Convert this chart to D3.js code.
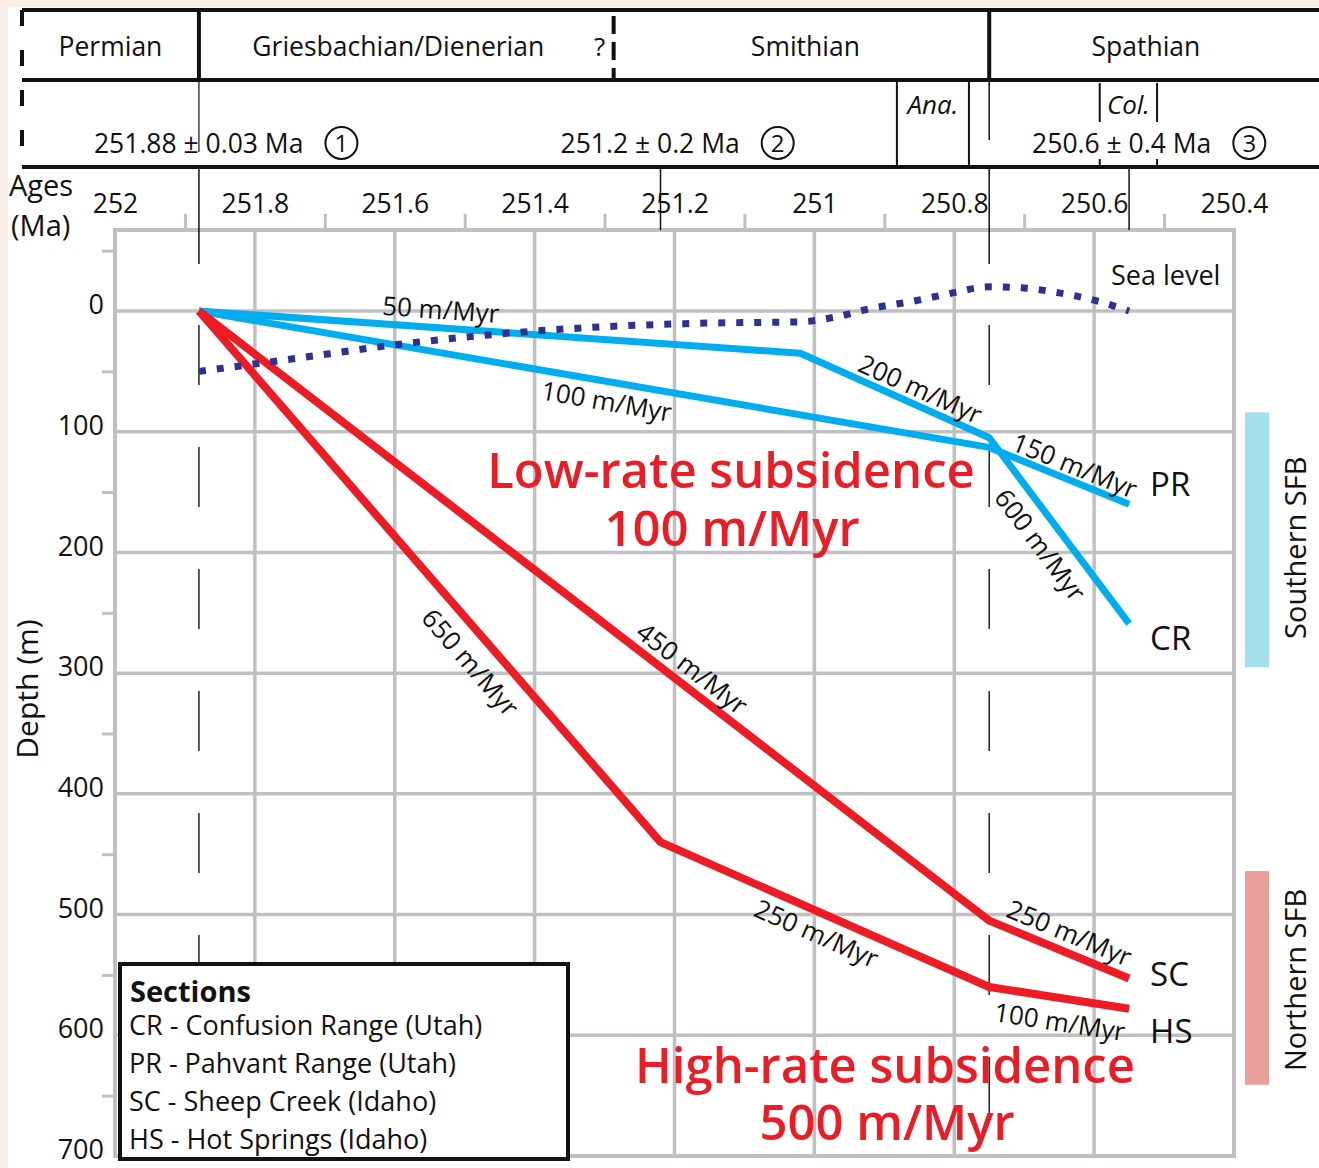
<!DOCTYPE html>
<html>
<head>
<meta charset="utf-8">
<script src="https://cdn.jsdelivr.net/npm/d3@7"></script>
<style>
  html, body { margin: 0; padding: 0; background: #fbeee6; }
  svg { display: block; }
  text { font-family: "Open Sans", "Noto Sans", sans-serif; fill: #111; }
</style>
</head>
<body>
<svg id="chart" width="1319" height="1168"></svg>
<script>
// ---------------- DATA ----------------
const ageTicks = [252, 251.8, 251.6, 251.4, 251.2, 251, 250.8, 250.6, 250.4];
const ageTickLabels = ["252", "251.8", "251.6", "251.4", "251.2", "251", "250.8", "250.6", "250.4"];
const ageMinorTicks = [251.9, 251.7, 251.5, 251.3, 251.1, 250.9, 250.7, 250.5];
const depthTicks = [0, 100, 200, 300, 400, 500, 600, 700];
const depthGrid = [0, 100, 200, 300, 400, 500, 600];
const depthMinorTicks = [-50, 50, 150, 250, 350, 450, 550, 650];

const stageNames = ["Permian", "Griesbachian/Dienerian", "Smithian", "Spathian"];
const stageBounds = [252.133, 251.88, 251.287, 250.75, 250.279];
const substageNames = ["Ana.", "Col."];
const substageBounds = [[250.882, 250.779], [250.592, 250.51]];
const dateLabels = ["251.88 \u00b1 0.03 Ma", "251.2 \u00b1 0.2 Ma", "250.6 \u00b1 0.4 Ma"];
const dateAges = [251.88, 251.22, 250.55];
const dateNumbers = ["1", "2", "3"];

// sea level (age, depth m; negative = above datum)
const seaLevelAge   = [251.88, 251.75, 251.6, 251.45, 251.3, 251.15, 251.02, 250.97, 250.92, 250.86, 250.81, 250.75, 250.7, 250.65, 250.6, 250.55];
const seaLevelDepth = [50, 40, 28, 19, 13, 10, 9, 5, -2, -8, -14, -20, -19, -15, -9, 0];

// subsidence curves
const prAge = [251.88, 250.75, 250.55];
const prDepth = [0, 113, 160];
const crAge = [251.88, 251.02, 250.75, 250.55];
const crDepth = [0, 35, 105, 259];
const scAge = [251.88, 250.75, 250.55];
const scDepth = [0, 505, 553];
const hsAge = [251.88, 251.22, 250.75, 250.55];
const hsDepth = [0, 440, 560, 578];

const seriesNames = ["PR", "CR", "SC", "HS"];

// rate labels: text, series, segment index
const rateText = ["50 m/Myr", "100 m/Myr", "200 m/Myr", "150 m/Myr", "600 m/Myr",
                  "650 m/Myr", "450 m/Myr", "250 m/Myr", "250 m/Myr", "100 m/Myr"];
const rateSeries = ["CR", "PR", "CR", "PR", "CR", "HS", "SC", "HS", "SC", "HS"];
const rateSegment = [0, 0, 1, 1, 2, 0, 0, 1, 1, 2];

const legendTitle = "Sections";
const legendItems = ["CR - Confusion Range (Utah)", "PR - Pahvant Range (Utah)",
                     "SC - Sheep Creek (Idaho)", "HS - Hot Springs (Idaho)"];
const regionNames = ["Southern SFB", "Northern SFB"];
const regionDepths = [[84, 295], [464, 641]];

// ---------------- LAYOUT / STYLE ----------------
const svg = d3.select("#chart");
const W = 1319, H = 1168;
const x = d3.scaleLinear().domain([252, 250.4]).range([115, 1234]);
const y = d3.scaleLinear().domain([0, 700]).range([311, 1156]);
const frameTop = 230;
const BLUE = "#00aeef", RED = "#ed1c24", NAVY = "#2e3192", GRID = "#bfc0c2";

const seriesData = {
  PR: prAge.map((a, i) => [a, prDepth[i]]),
  CR: crAge.map((a, i) => [a, crDepth[i]]),
  SC: scAge.map((a, i) => [a, scDepth[i]]),
  HS: hsAge.map((a, i) => [a, hsDepth[i]])
};
const seriesColor = { PR: BLUE, CR: BLUE, SC: RED, HS: RED };
const seriesWidth = { PR: 7, CR: 7, SC: 8, HS: 8 };

// white page
svg.append("rect").attr("x", 8).attr("y", 7).attr("width", W - 8).attr("height", H - 7).attr("fill", "#fff");

// ---------- HEADER ----------
const hdr = svg.append("g");
const hTop = 10, hMid = 80, hBot = 167, hLeft = 22;
[hTop, hMid, hBot].forEach(v => hdr.append("line").attr("x1", hLeft).attr("x2", W).attr("y1", v).attr("y2", v)
  .attr("stroke", "#111").attr("stroke-width", 4));
hdr.append("line").attr("x1", hLeft).attr("x2", hLeft).attr("y1", hTop).attr("y2", hBot + 2)
  .attr("stroke", "#111").attr("stroke-width", 4).attr("stroke-dasharray", "16,24");
hdr.append("line").attr("x1", x(251.88)).attr("x2", x(251.88)).attr("y1", hTop).attr("y2", hMid).attr("stroke", "#111").attr("stroke-width", 4);
hdr.append("line").attr("x1", x(251.287)).attr("x2", x(251.287)).attr("y1", hTop + 6).attr("y2", hMid).attr("stroke", "#111").attr("stroke-width", 4).attr("stroke-dasharray", "18,8");
hdr.append("line").attr("x1", x(250.75)).attr("x2", x(250.75)).attr("y1", hTop).attr("y2", hMid).attr("stroke", "#111").attr("stroke-width", 4);
stageNames.forEach((n, i) => {
  let cx = (x(stageBounds[i]) + x(stageBounds[i + 1])) / 2;
  if (i === 1) cx -= 8;
  if (i === 2) cx += 4;
  if (i === 3) cx -= 8;
  hdr.append("text").attr("x", cx).attr("y", 56).attr("text-anchor", "middle").attr("font-size", 26.5).text(n);
});
hdr.append("text").attr("x", x(251.287) - 14).attr("y", 56).attr("text-anchor", "middle").attr("font-size", 26).text("?");
hdr.append("line").attr("x1", x(251.88)).attr("x2", x(251.88)).attr("y1", hMid).attr("y2", 152).attr("stroke", "#111").attr("stroke-width", 1.2);
hdr.append("line").attr("x1", x(250.75)).attr("x2", x(250.75)).attr("y1", hMid).attr("y2", 140).attr("stroke", "#111").attr("stroke-width", 1.5);
substageBounds[0].forEach(a => hdr.append("line").attr("x1", x(a)).attr("x2", x(a)).attr("y1", hMid).attr("y2", hBot).attr("stroke", "#111").attr("stroke-width", 2));
substageBounds[1].forEach(a => {
  hdr.append("line").attr("x1", x(a)).attr("x2", x(a)).attr("y1", hMid + 3).attr("y2", 122).attr("stroke", "#111").attr("stroke-width", 2);
  hdr.append("line").attr("x1", x(a)).attr("x2", x(a)).attr("y1", 159).attr("y2", hBot).attr("stroke", "#111").attr("stroke-width", 2);
});
substageNames.forEach((n, i) => {
  hdr.append("text").attr("x", (x(substageBounds[i][0]) + x(substageBounds[i][1])) / 2).attr("y", 114)
    .attr("text-anchor", "middle").attr("font-size", 26).attr("font-style", "italic").text(n);
});
const dateDx = [-105, -100, -97];
dateLabels.forEach((t, i) => {
  const tx = hdr.append("text").attr("x", x(dateAges[i]) + dateDx[i]).attr("y", 153).attr("font-size", 26.5).text(t);
  const end = x(dateAges[i]) + dateDx[i] + tx.node().getComputedTextLength();
  const cx = end + 38, cy = 143;
  hdr.append("circle").attr("cx", cx).attr("cy", cy).attr("r", 16).attr("fill", "none").attr("stroke", "#111").attr("stroke-width", 2);
  hdr.append("text").attr("x", cx).attr("y", cy + 9).attr("text-anchor", "middle").attr("font-size", 24).text(dateNumbers[i]);
});

// ---------- AXIS AREA ----------
svg.append("text").attr("x", 9).attr("y", 196).attr("font-size", 29).text("Ages");
svg.append("text").attr("x", 11).attr("y", 236).attr("font-size", 29).text("(Ma)");
svg.append("text").attr("transform", "translate(38,689) rotate(-90)").attr("text-anchor", "middle").attr("font-size", 30).text("Depth (m)");

const xAxis = d3.axisTop(x).tickValues(ageTicks).tickSize(0).tickPadding(0)
  .tickFormat((d, i) => ageTickLabels[i]);
const gx = svg.append("g").attr("transform", "translate(0,213)").call(xAxis);
gx.select(".domain").remove();
gx.selectAll("text").attr("font-size", 26.5).attr("font-family", "Open Sans, sans-serif").attr("fill", "#111").attr("dy", 0);

const xMinor = d3.axisTop(x).tickValues(ageMinorTicks).tickSize(16).tickFormat("");
const gxm = svg.append("g").attr("transform", `translate(0,${frameTop})`).call(xMinor);
gxm.select(".domain").remove();
gxm.selectAll("line").attr("stroke", GRID).attr("stroke-width", 3);

const yAxis = d3.axisLeft(y).tickValues(depthTicks).tickSize(0).tickPadding(0).tickFormat(d3.format("d"));
const gy = svg.append("g").attr("transform", "translate(104,-6)").call(yAxis);
gy.select(".domain").remove();
gy.selectAll("text").attr("font-size", 27).attr("font-family", "Open Sans, sans-serif").attr("fill", "#111");

const yMinor = d3.axisLeft(y).tickValues(depthMinorTicks).tickSize(13).tickFormat("");
const gym = svg.append("g").attr("transform", `translate(${x(252)},0)`).call(yMinor);
gym.select(".domain").remove();
gym.selectAll("line").attr("stroke", GRID).attr("stroke-width", 3);

// ---------- GRID ----------
const grid = svg.append("g");
ageTicks.slice(1, -1).forEach(a => grid.append("line").attr("x1", x(a)).attr("x2", x(a)).attr("y1", frameTop).attr("y2", y(700))
  .attr("stroke", GRID).attr("stroke-width", 3.5));
depthGrid.forEach(d => grid.append("line").attr("x1", x(252)).attr("x2", x(250.4)).attr("y1", y(d)).attr("y2", y(d))
  .attr("stroke", GRID).attr("stroke-width", 3.5));
grid.append("rect").attr("x", x(252)).attr("y", frameTop).attr("width", x(250.4) - x(252)).attr("height", y(700) - frameTop)
  .attr("fill", "none").attr("stroke", GRID).attr("stroke-width", 4);

[[251.88, hBot, 264], [250.75, hBot, 264], [251.22, hBot, frameTop], [250.55, hBot, frameTop]].forEach(([a, y1, y2]) => {
  svg.append("line").attr("x1", x(a)).attr("x2", x(a)).attr("y1", y1).attr("y2", y2).attr("stroke", "#111").attr("stroke-width", 1.5);
});
[251.88, 250.75].forEach(a => {
  svg.append("line").attr("x1", x(a)).attr("x2", x(a)).attr("y1", 325).attr("y2", y(700))
    .attr("stroke", "#222").attr("stroke-width", 1.5).attr("stroke-dasharray", "60,62");
});

// ---------- CURVES ----------
const line = d3.line().x(d => x(d[0])).y(d => y(d[1]));
const plot = svg.append("g");

seriesNames.forEach(s => {
  plot.append("path").datum(seriesData[s]).attr("d", line).attr("fill", "none")
    .attr("stroke", seriesColor[s]).attr("stroke-width", seriesWidth[s]).attr("stroke-linejoin", "round");
});

const seaData = seaLevelAge.map((a, i) => [a, seaLevelDepth[i]]);
plot.append("path").datum(seaData).attr("d", d3.line().x(d => x(d[0])).y(d => y(d[1])).curve(d3.curveMonotoneX))
  .attr("fill", "none").attr("stroke", NAVY).attr("stroke-width", 7).attr("stroke-dasharray", "7,11");

const rateT = [0.4, 0.52, 0.6, 0.57, 0.5, 0.63, 0.61, 0.5, 0.52, 0.53];
const rateOff = [-19, 19, -17, -16, 23, 25, -19, 20, -20, 23];
rateText.forEach((t, i) => {
  const pts = seriesData[rateSeries[i]];
  const p0 = pts[rateSegment[i]], p1 = pts[rateSegment[i] + 1];
  const x0 = x(p0[0]), y0 = y(p0[1]), x1 = x(p1[0]), y1 = y(p1[1]);
  const len = Math.hypot(x1 - x0, y1 - y0);
  const ux = (x1 - x0) / len, uy = (y1 - y0) / len;
  const nx = -uy, ny = ux;
  const cx = x0 + (x1 - x0) * rateT[i] + nx * rateOff[i];
  const cy = y0 + (y1 - y0) * rateT[i] + ny * rateOff[i];
  const ang = Math.atan2(y1 - y0, x1 - x0) * 180 / Math.PI;
  plot.append("text").attr("transform", `translate(${cx},${cy}) rotate(${ang})`)
    .attr("text-anchor", "middle").attr("dominant-baseline", "central").attr("font-size", 26).text(t);
});

const endDy = { PR: -20, CR: 14, SC: -5, HS: 22 };
seriesNames.forEach(s => {
  const last = seriesData[s][seriesData[s].length - 1];
  plot.append("text").attr("x", x(last[0]) + 21).attr("y", y(last[1]) + endDy[s] + 12)
    .attr("font-size", 33).text(s);
});
plot.append("text").attr("x", 1111).attr("y", 285).attr("font-size", 27).text("Sea level");

const big = [["Low-rate subsidence", 731, 488], ["100 m/Myr", 732, 546], ["High-rate subsidence", 885, 1083], ["500 m/Myr", 887, 1140]];
big.forEach(([t, bx, by]) => plot.append("text").attr("x", bx).attr("y", by).attr("text-anchor", "middle")
  .attr("font-size", 49).attr("font-weight", 600).style("fill", RED).text(t));

const regionColors = ["#a4dfee", "#e89e99"];
const regionTextDy = [8, 2];
regionNames.forEach((n, i) => {
  const [d0, d1] = regionDepths[i];
  svg.append("rect").attr("x", 1245).attr("y", y(d0)).attr("width", 24).attr("height", y(d1) - y(d0)).attr("fill", regionColors[i]);
  svg.append("text").attr("transform", `translate(1306,${(y(d0) + y(d1)) / 2 + regionTextDy[i]}) rotate(-90)`).attr("text-anchor", "middle")
    .attr("font-size", 29).text(n);
});

const lg = svg.append("g");
lg.append("rect").attr("x", 120).attr("y", 964).attr("width", 448).attr("height", 195).attr("fill", "#fff")
  .attr("stroke", "#111").attr("stroke-width", 4);
lg.append("text").attr("x", 130).attr("y", 1002).attr("font-size", 29).attr("font-weight", 700).text(legendTitle);
legendItems.forEach((t, i) => lg.append("text").attr("x", 129).attr("y", 1035 + i * 38).attr("font-size", 27).text(t));
</script>
</body>
</html>
